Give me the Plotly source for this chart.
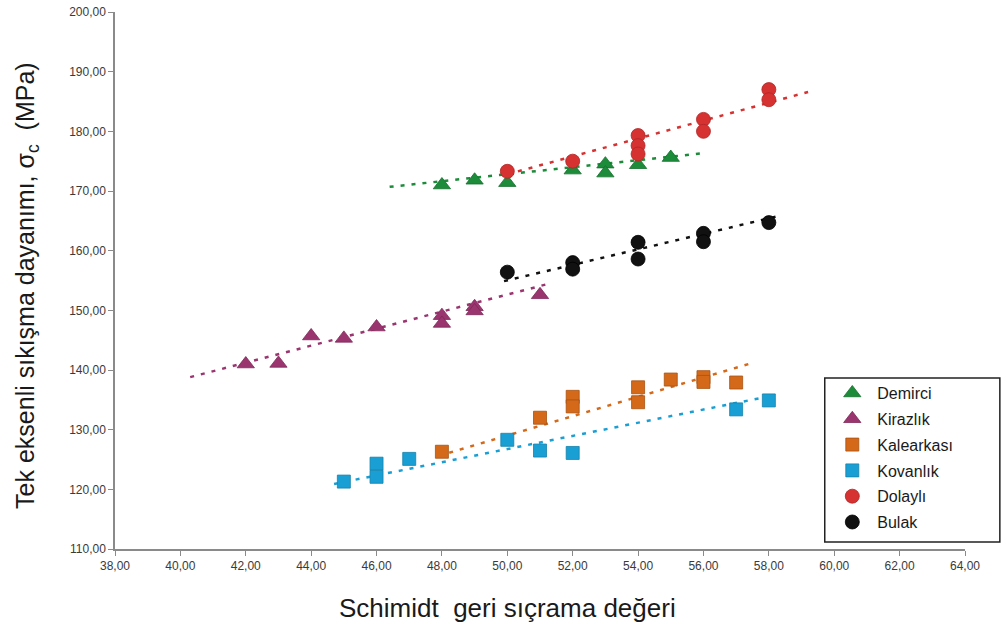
import plotly.graph_objects as go

# ---- data ----
demirci_x = [48, 49, 50, 52, 53, 53, 54, 55]
demirci_y = [171.0, 171.8, 171.4, 173.5, 174.5, 173.0, 174.4, 175.6]

kirazlik_x = [42, 43, 44, 45, 46, 48, 48, 49, 49, 51]
kirazlik_y = [141.0, 141.1, 145.7, 145.3, 147.2, 149.1, 147.8, 150.6, 149.9, 152.6]

kalearkasi_x = [48, 51, 52, 52, 54, 54, 55, 56, 56, 57]
kalearkasi_y = [126.3, 132.0, 135.5, 133.9, 137.1, 134.6, 138.4, 138.8, 138.0, 137.9]

kovanlik_x = [45, 46, 46, 47, 50, 51, 52, 57, 58]
kovanlik_y = [121.3, 124.3, 122.1, 125.1, 128.3, 126.5, 126.1, 133.4, 134.9]

dolayli_x = [50, 52, 54, 54, 54, 56, 56, 58, 58]
dolayli_y = [173.3, 175.0, 179.3, 177.6, 176.2, 182.0, 180.0, 187.0, 185.3]

bulak_x = [50, 52, 52, 54, 54, 56, 56, 58]
bulak_y = [156.4, 158.0, 156.9, 161.4, 158.6, 162.9, 161.5, 164.7]

# trend line end points
demirci_trend_x = [46.4, 56.1]
demirci_trend_y = [170.7, 176.4]
kirazlik_trend_x = [40.3, 51.3]
kirazlik_trend_y = [138.8, 154.5]
kalearkasi_trend_x = [47.9, 57.5]
kalearkasi_trend_y = [125.6, 141.2]
kovanlik_trend_x = [44.7, 58.2]
kovanlik_trend_y = [120.9, 135.8]
dolayli_trend_x = [50.0, 59.2]
dolayli_trend_y = [172.8, 186.6]
bulak_trend_x = [49.9, 58.3]
bulak_trend_y = [154.9, 165.8]

x_ticks = [38, 40, 42, 44, 46, 48, 50, 52, 54, 56, 58, 60, 62, 64]
y_ticks = [110, 120, 130, 140, 150, 160, 170, 180, 190, 200]

x_title = "Schimidt  geri sıçrama değeri"
y_title = "Tek eksenli sıkışma dayanımı, σ<sub>c</sub>  (MPa)"

FONT = "Liberation Sans, Arial, sans-serif"

series = [
    ("Demirci", demirci_x, demirci_y, demirci_trend_x, demirci_trend_y, "#1c8c3a", "#15702d", "triangle-up", 15),
    ("Kirazlık", kirazlik_x, kirazlik_y, kirazlik_trend_x, kirazlik_trend_y, "#9b3570", "#7d2858", "triangle-up", 15),
    ("Kalearkası", kalearkasi_x, kalearkasi_y, kalearkasi_trend_x, kalearkasi_trend_y, "#d4691a", "#a85212", "square", 13),
    ("Kovanlık", kovanlik_x, kovanlik_y, kovanlik_trend_x, kovanlik_trend_y, "#1a9fd4", "#1581ab", "square", 13),
    ("Dolaylı", dolayli_x, dolayli_y, dolayli_trend_x, dolayli_trend_y, "#d63232", "#b02424", "circle", 14),
    ("Bulak", bulak_x, bulak_y, bulak_trend_x, bulak_trend_y, "#111111", "#000000", "circle", 14),
]

fig = go.Figure()

for name, xs, ys, tx, ty, col, edge, sym, size in series:
    fig.add_trace(go.Scatter(
        x=tx, y=ty, mode="lines", showlegend=False, hoverinfo="skip",
        line=dict(color=col, width=2.5, dash="4px,7px"),
    ))

for name, xs, ys, tx, ty, col, edge, sym, size in series:
    fig.add_trace(go.Scatter(
        x=xs, y=ys, mode="markers", name=name, legendgroup=name,
        marker=dict(symbol=sym, size=size, color=col, line=dict(color=edge, width=0.8)),
    ))

axis_common = dict(
    showline=True, linecolor="#8a8a8a", linewidth=1.5,
    ticks="outside", ticklen=5, tickcolor="#8a8a8a", tickwidth=1,
    showgrid=False, zeroline=False, automargin=False,
    tickfont=dict(family=FONT, size=12, color="#3a3a3a"),
    tickformat=".2f",
)

fig.update_xaxes(range=[38, 64], tickvals=x_ticks, **axis_common)
fig.update_yaxes(range=[110, 200], tickvals=y_ticks, **axis_common)

# axis titles
fig.add_annotation(text=x_title, xref="paper", yref="paper",
                   x=0.462, y=-0.11, xanchor="center", yanchor="middle",
                   showarrow=False, font=dict(family=FONT, size=26, color="#1a1a1a"))
fig.add_annotation(text=y_title, xref="paper", yref="paper",
                   x=-0.1035, y=0.49, xanchor="center", yanchor="middle", textangle=-90,
                   showarrow=False, font=dict(family=FONT, size=25, color="#1a1a1a"))

# legend frame
fig.add_shape(type="rect", xref="paper", yref="paper",
              x0=0.835, x1=1.041, y0=0.013, y1=0.3184,
              line=dict(color="#222222", width=1.5), fillcolor="rgba(0,0,0,0)")

fig.update_layout(
    width=1003, height=633,
    margin=dict(l=115, r=38, t=12, b=84),
    paper_bgcolor="white", plot_bgcolor="white",
    separators=",.",
    font=dict(family=FONT),
    legend=dict(
        x=0.838, y=0.322, xanchor="left", yanchor="top",
        bgcolor="rgba(0,0,0,0)", borderwidth=0,
        font=dict(family=FONT, size=16, color="#1a1a1a"),
        tracegroupgap=2, itemwidth=40,
    ),
)

# remove the default page margin so the figure fills the window exactly
fig.write_html("out.html",
               config={"displayModeBar": False},
               post_script="document.body.style.margin='0';document.body.style.overflow='hidden';")
